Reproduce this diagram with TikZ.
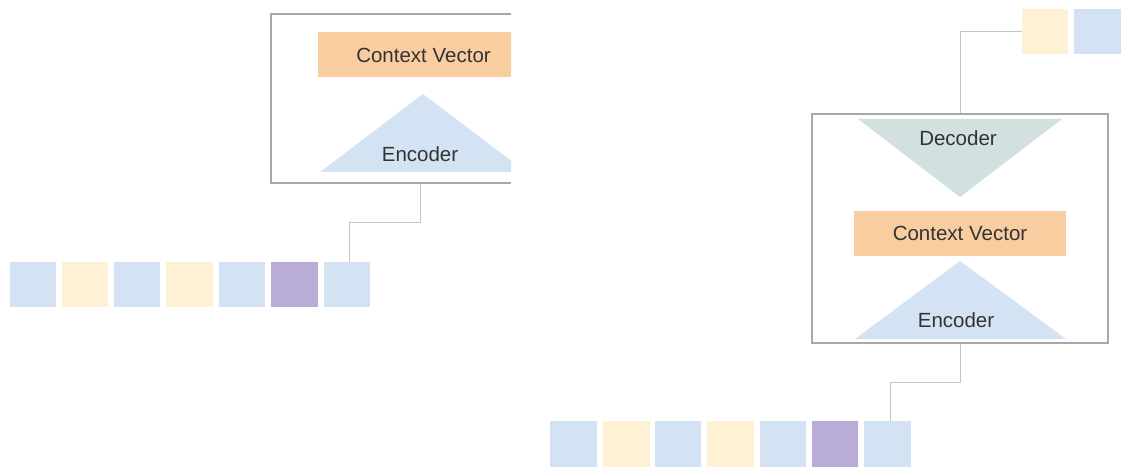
\documentclass[tikz,border=0pt]{standalone}
\usepackage{fontspec}
\setmainfont{Liberation Sans}
\definecolor{sqblue}{HTML}{D3E3F3}
\definecolor{sqyellow}{HTML}{FEF1D4}
\definecolor{sqpurple}{HTML}{B9ADD8}
\definecolor{ctxorange}{HTML}{F8CDA0}
\definecolor{decgrey}{HTML}{D2E0E0}
\definecolor{boxline}{HTML}{A8A8A8}
\definecolor{connline}{HTML}{C4C4C4}
\definecolor{txt}{HTML}{333333}
\tikzset{
  sq/.style={draw=none, minimum width=46.5pt, minimum height=45.5pt, inner sep=0pt},
  ctx/.style={fill=ctxorange, draw=none},
  lbl/.style={text=txt, font=\fontsize{20.5}{24}\selectfont, inner sep=0pt},
  frame/.style={draw=boxline, line width=1.1pt},
  conn/.style={draw=connline, line width=1pt},
}
\begin{document}
\begin{tikzpicture}[x=1pt,y=-1pt]
\useasboundingbox (0,0) rectangle (1122,468);
% ---------- left panel (clipped at right) ----------
\begin{scope}
\clip (0,0) rectangle (511,468);
\fill[ctxorange] (318,32) rectangle (530,77);
\fill[sqblue] (423,94) -- (320,172) -- (526,172) -- cycle;
\end{scope}
\draw[frame] (511,14) -- (271,14) -- (271,183) -- (511,183);
\node[lbl] (lctx) at (423.5,55) {Context Vector};
\node[lbl] (lenc) at (420,154) {Encoder};
\coordinate (lboxb) at (420,183);
% left input squares
\node[sq, fill=sqblue]   (l1) at (33,284.5) {};
\node[sq, fill=sqyellow] (l2) at (85,284.5) {};
\node[sq, fill=sqblue]   (l3) at (137,284.5) {};
\node[sq, fill=sqyellow] (l4) at (189.5,284.5) {};
\node[sq, fill=sqblue]   (l5) at (242,284.5) {};
\node[sq, fill=sqpurple] (l6) at (294.5,284.5) {};
\node[sq, fill=sqblue]   (l7) at (347,284.5) {};
\draw[conn] (lboxb) -- ++(0,39) -| ([xshift=2pt]l7.north);
% ---------- right panel ----------
\node[frame, minimum width=296pt, minimum height=229pt, inner sep=0pt] (rbox) at (960,228.5) {};
\fill[decgrey] (858,119) -- (1062,119) -- (960,197) -- cycle;
\node[ctx, minimum width=212pt, minimum height=45pt, inner sep=0pt] (rctx) at (960,233.5) {};
\fill[sqblue] (960,261) -- (855,339) -- (1066,339) -- cycle;
\node[lbl] (rdec) at (958,138) {Decoder};
\node[lbl] (rctxl) at (960,233.5) {Context Vector};
\node[lbl] (renc) at (956,320) {Encoder};
% output squares
\node[sq, fill=sqyellow] (o1) at (1045,31.5) {};
\node[sq, fill=sqblue]   (o2) at (1097.5,31.5) {};
\draw[conn] (rbox.north) |- (o1.west);
% right input squares
\node[sq, fill=sqblue]   (r1) at (573.5,444) {};
\node[sq, fill=sqyellow] (r2) at (626.5,444) {};
\node[sq, fill=sqblue]   (r3) at (678,444) {};
\node[sq, fill=sqyellow] (r4) at (730.5,444) {};
\node[sq, fill=sqblue]   (r5) at (783,444) {};
\node[sq, fill=sqpurple] (r6) at (835,444) {};
\node[sq, fill=sqblue]   (r7) at (887.5,444) {};
\draw[conn] (rbox.south) -- ++(0,39) -| ([xshift=2.5pt]r7.north);
\end{tikzpicture}
\end{document}
